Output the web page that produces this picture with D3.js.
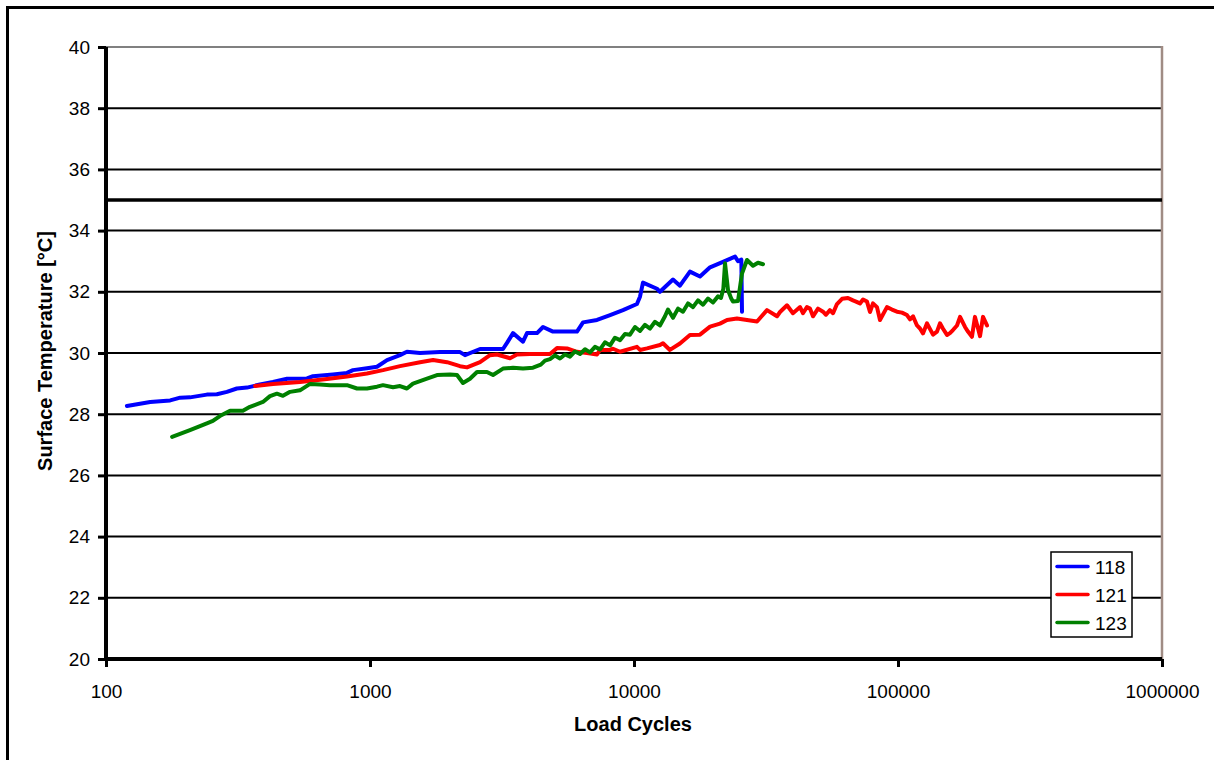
<!DOCTYPE html>
<html><head><meta charset="utf-8">
<script src="https://cdn.jsdelivr.net/npm/d3@7"></script>
<style>body{margin:0;background:#fff}svg{display:block}text{font-family:"Liberation Sans",Arial,sans-serif}</style>
</head><body><svg id="c" width="1214" height="760"></svg>
<script>
const xTicks = [100, 1000, 10000, 100000, 1000000];
const yTicks = [20, 22, 24, 26, 28, 30, 32, 34, 36, 38, 40];
const limitValue = 35;
const seriesNames = ["118", "121", "123"];
const seriesColors = ["#0000ff", "#ff0000", "#008000"];

const s118 = [[120,28.27],[147,28.4],[175,28.45],[191,28.54],[208,28.55],[241,28.64],[263,28.65],[287,28.73],[313,28.84],[342,28.87],[383,28.97],[429,29.05],[485,29.16],[577,29.17],[608,29.24],[724,29.3],[818,29.35],[862,29.44],[974,29.5],[1063,29.55],[1160,29.77],[1299,29.93],[1380,30.04],[1547,30.0],[1841,30.03],[2193,30.03],[2290,29.93],[2611,30.13],[3190,30.13],[3303,30.33],[3481,30.65],[3798,30.37],[3933,30.65],[4292,30.65],[4523,30.85],[4933,30.7],[6081,30.7],[6412,31.0],[7244,31.08],[8117,31.24],[9084,31.4],[10260,31.6],[10537,31.84],[10815,32.3],[12221,32.1],[12540,32.0],[14050,32.4],[14930,32.2],[16290,32.66],[17780,32.5],[19410,32.8],[21730,32.98],[24140,33.15],[24770,33.0],[25500,33.05],[25650,31.35]];

const s121 = [[367,28.92],[429,28.99],[543,29.05],[687,29.15],[818,29.23],[974,29.33],[1120,29.44],[1299,29.57],[1547,29.7],[1733,29.77],[1958,29.7],[2193,29.57],[2330,29.53],[2611,29.7],[2848,29.93],[3027,29.95],[3391,29.83],[3604,29.95],[4037,29.97],[4807,29.97],[5109,30.16],[5575,30.15],[6081,30.04],[6637,30.0],[7244,29.95],[7435,30.1],[8117,30.1],[8327,30.14],[8851,30.04],[10260,30.2],[10537,30.1],[11200,30.15],[12540,30.26],[12877,30.32],[13680,30.1],[14930,30.31],[16290,30.59],[17780,30.6],[19410,30.86],[21170,30.96],[22510,31.08],[24550,31.13],[26790,31.08],[29240,31.03],[31900,31.4],[34810,31.2],[35730,31.34],[37980,31.56],[40000,31.3],[42560,31.5],[43650,31.3],[45190,31.5],[46420,31.45],[47640,31.2],[49770,31.45],[52000,31.35],[53350,31.25],[55230,31.4],[56750,31.3],[58730,31.6],[61380,31.77],[64650,31.8],[67520,31.72],[69340,31.68],[71780,31.62],[73700,31.75],[76300,31.68],[78330,31.34],[80400,31.62],[83250,31.5],[85460,31.08],[90820,31.5],[94900,31.42],[99100,31.35],[103500,31.32],[108150,31.24],[111050,31.1],[114000,31.2],[118000,30.9],[121150,30.8],[124350,30.64],[128800,30.97],[135700,30.6],[140500,30.7],[144200,30.97],[147900,30.8],[153300,30.59],[157300,30.65],[161500,30.75],[167300,30.9],[171800,31.18],[179400,30.85],[184100,30.7],[190600,30.53],[195700,31.18],[201000,30.8],[204500,30.55],[209900,31.18],[217300,30.9]];

const s123 = [[178,27.26],[208,27.48],[241,27.7],[254,27.78],[270,27.94],[295,28.11],[330,28.11],[351,28.24],[393,28.4],[418,28.59],[444,28.67],[468,28.6],[498,28.73],[543,28.78],[593,28.99],[646,28.97],[705,28.95],[818,28.95],[893,28.84],[974,28.84],[1063,28.9],[1120,28.95],[1222,28.88],[1299,28.92],[1380,28.84],[1455,29.0],[1644,29.16],[1794,29.28],[2009,29.3],[2136,29.28],[2250,29.02],[2392,29.16],[2543,29.38],[2774,29.38],[2924,29.28],[3190,29.49],[3481,29.52],[3798,29.49],[4144,29.52],[4436,29.62],[4601,29.75],[4807,29.8],[5021,29.92],[5245,29.82],[5478,29.95],[5722,29.88],[5977,30.05],[6245,29.97],[6523,30.12],[6813,30.02],[7117,30.2],[7435,30.12],[7762,30.35],[8117,30.25],[8472,30.5],[8851,30.42],[9245,30.62],[9656,30.6],[10088,30.85],[10537,30.72],[11006,30.92],[11498,30.8],[12010,31.02],[12540,30.9],[13104,31.2],[13450,31.42],[14050,31.15],[14678,31.45],[15330,31.35],[16014,31.62],[16730,31.5],[17475,31.72],[18254,31.58],[19067,31.78],[19915,31.65],[20803,31.85],[21351,31.8],[21800,32.1],[22120,32.93],[22700,32.06],[23300,31.8],[23710,31.68],[24770,31.7],[25650,32.6],[26790,33.04],[28230,32.85],[29490,32.95],[30810,32.9]];

const seriesData = [s118, s121, s123];

const svg = d3.select("#c");
const L = 106, R = 1162, T = 47, B = 659;
const x = d3.scaleLog().domain([100, 1000000]).range([L, R]);
const y = d3.scaleLinear().domain([20, 40]).range([B, T]);

// outer frame
svg.append("line").attr("x1",6).attr("x2",1214).attr("y1",7.5).attr("y2",7.5).attr("stroke","#000").attr("stroke-width",3);
svg.append("line").attr("x1",7.5).attr("x2",7.5).attr("y1",6).attr("y2",760).attr("stroke","#000").attr("stroke-width",3);

// grid
svg.append("g").selectAll("line").data(yTicks.filter(v => v > 20 && v < 40)).join("line")
  .attr("x1", L).attr("x2", R).attr("y1", d => y(d)).attr("y2", d => y(d))
  .attr("stroke", "#000").attr("stroke-width", 2);
// plot border top/right
svg.append("line").attr("x1",L).attr("x2",R).attr("y1",y(40)).attr("y2",y(40)).attr("stroke","#808080").attr("stroke-width",2);
svg.append("line").attr("x1",R).attr("x2",R).attr("y1",y(40)-1).attr("y2",B).attr("stroke","#a08c84").attr("stroke-width",2.5);

// limit line
svg.append("line").attr("x1",L).attr("x2",R).attr("y1",y(limitValue)).attr("y2",y(limitValue)).attr("stroke","#000").attr("stroke-width",3.5);

// axes
const yAxis = d3.axisLeft(y).tickValues(yTicks).tickSize(8).tickPadding(8).tickFormat(d3.format("d"));
const gy = svg.append("g").attr("transform", `translate(${L},0)`).call(yAxis);
const xAxis = d3.axisBottom(x).tickValues(xTicks).tickSize(8).tickPadding(18).tickFormat(d3.format("d"));
const gx = svg.append("g").attr("transform", `translate(0,${B})`).call(xAxis);
[gy, gx].forEach(g => {
  g.select(".domain").attr("stroke", "#000").attr("stroke-width", 4);
  g.selectAll(".tick line").attr("stroke", "#000").attr("stroke-width", 3);
  g.selectAll(".tick text").attr("font-size", 19).attr("fill", "#000").attr("font-family", "Liberation Sans, Arial, sans-serif");
});
gy.select(".domain").attr("d", `M0,${B+1}V${T}`);
gx.select(".domain").attr("d", `M${L-2},0H${R}`);

// titles
svg.append("text").attr("x", 633).attr("y", 731).attr("text-anchor", "middle")
  .attr("font-size", 20).attr("font-weight", "bold").text("Load Cycles");
svg.append("text").attr("transform", "translate(52,351) rotate(-90)").attr("text-anchor", "middle")
  .attr("font-size", 20).attr("font-weight", "bold").text("Surface Temperature [°C]");

// series
const line = d3.line().x(d => x(d[0])).y(d => y(d[1]));
svg.append("g").selectAll("path").data(seriesData).join("path")
  .attr("d", d => line(d)).attr("fill", "none")
  .attr("stroke", (d, i) => seriesColors[i]).attr("stroke-width", 4)
  .attr("stroke-linejoin", "round").attr("stroke-linecap", "round");

// legend
const lg = svg.append("g");
lg.append("rect").attr("x", 1051).attr("y", 552).attr("width", 81).attr("height", 85)
  .attr("fill", "#fff").attr("stroke", "#000").attr("stroke-width", 1.5);
const ly = [566.5, 594.5, 622.5];
seriesNames.forEach((n, i) => {
  lg.append("line").attr("x1", 1057).attr("x2", 1088).attr("y1", ly[i]).attr("y2", ly[i])
    .attr("stroke", seriesColors[i]).attr("stroke-width", 3.5).attr("stroke-linecap", "round");
  lg.append("text").attr("x", 1095).attr("y", ly[i] + 7).attr("font-size", 19).text(n);
});
</script></body></html>
